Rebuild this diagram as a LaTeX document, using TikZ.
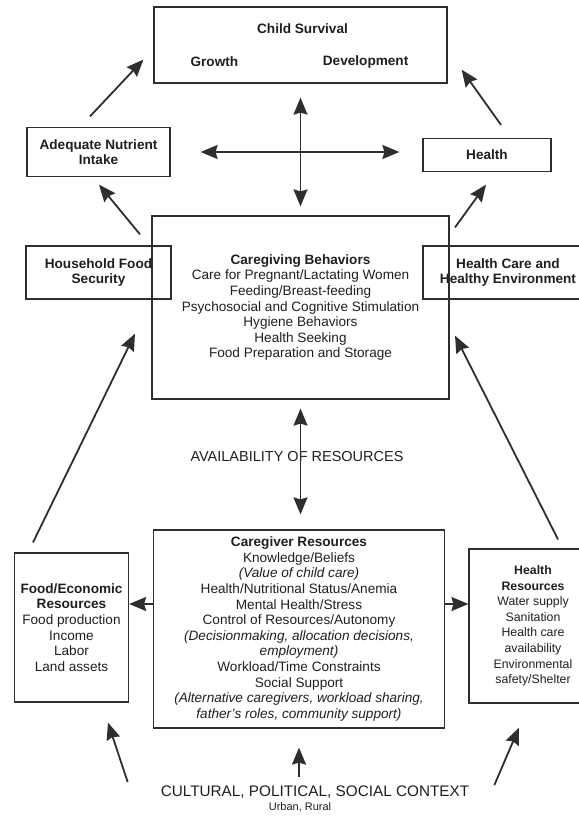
\documentclass[tikz,border=0pt]{standalone}
\usepackage{fontspec}
\setmainfont{Liberation Sans}
\usetikzlibrary{arrows.meta,calc}
\definecolor{LineClr}{rgb}{0.18,0.18,0.18}
\definecolor{TextClr}{rgb}{0.12,0.12,0.12}

\begin{document}
\begin{tikzpicture}[x=1pt,y=-1pt,
  box/.style={draw=LineClr,line width=1.2pt,align=center,inner sep=0pt,text=TextClr,font=\fontsize{13.6}{15.6}\selectfont},
  lbl/.style={inner sep=0pt,text=TextClr,font=\bfseries\fontsize{13.6}{15.6}\selectfont},
  arr/.style={draw=LineClr,line width=1.8pt,-{Stealth[length=17pt,width=14pt,inset=2pt]}},
  dbl/.style={arr,{Stealth[length=17pt,width=14pt,inset=2pt]}-{Stealth[length=17pt,width=14pt,inset=2pt]}}]
\useasboundingbox (0,0) rectangle (578,816);

\node[box,minimum width=293pt,minimum height=76pt] (child) at (300.5,45) {};
\node[lbl] (survival) at ($(child.north)+(2,22)$) {Child Survival};
\node[lbl] (growth) at ($(child.south west)+(61,-22)$) {Growth};
\node[lbl] (devel) at ($(child.south east)+(-82,-22)$) {Development};

\node[box,minimum width=143pt,minimum height=49pt] (nutr) at (98.5,152) {\textbf{Adequate Nutrient}\\\textbf{Intake}};
\node[box,minimum width=128pt,minimum height=33pt] (hlth) at (487,155) {\textbf{Health}};

\node[box,minimum width=145pt,minimum height=53pt] (house) at (98.5,272.5) {\textbf{Household Food}\\\textbf{Security}};
\node[box,minimum width=297pt,minimum height=183pt] (care) at (300.5,307.5) {\textbf{Caregiving Behaviors}\\
  Care for Pregnant/Lactating Women\\
  Feeding/Breast-feeding\\
  Psychosocial and Cognitive Stimulation\\
  Hygiene Behaviors\\
  Health Seeking\\
  Food Preparation and Storage};
\node[box,minimum width=170pt,minimum height=53pt] (env) at (508,272.5) {\textbf{Health Care and}\\\textbf{Healthy Environment}};

\node[box,minimum width=291pt,minimum height=198pt] (givers) at (299,629) {\textbf{Caregiver Resources}\\
  Knowledge/Beliefs\\
  \textit{(Value of child care)}\\
  Health/Nutritional Status/Anemia\\
  Mental Health/Stress\\
  Control of Resources/Autonomy\\
  \textit{(Decisionmaking, allocation decisions,}\\
  \textit{employment)}\\
  Workload/Time Constraints\\
  Social Support\\
  \textit{(Alternative caregivers, workload sharing,}\\
  \textit{father's roles, community support)}};
\node[box,minimum width=114pt,minimum height=149pt] (food) at (71.5,627.5) {\textbf{Food/Economic}\\\textbf{Resources}\\
  Food production\\Income\\Labor\\Land assets};
\node[box,minimum width=128pt,minimum height=154pt,font=\fontsize{12.3}{15.6}\selectfont] (hres) at (533,626) {\textbf{Health}\\\textbf{Resources}\\
  Water supply\\Sanitation\\Health care\\availability\\Environmental\\safety/Shelter};

\node[inner sep=0pt,text=TextClr,font=\fontsize{14.5}{16}\selectfont] (avail) at (297,457) {AVAILABILITY OF RESOURCES};
\node[inner sep=0pt,text=TextClr,font=\fontsize{15.3}{17}\selectfont] (context) at (315,792) {CULTURAL, POLITICAL, SOCIAL CONTEXT};
\node[inner sep=0pt,text=TextClr,font=\fontsize{11}{12}\selectfont] (urban) at (300,807) {Urban, Rural};

\draw[arr] ($(nutr.north)+(-8.5,-10.5)$) -- ($(child.south west)+(-10,-24)$);
\draw[arr] ($(hlth.north)+(14,-13)$) -- ($(child.south east)+(14,-14)$);
\draw[dbl] ($(nutr.east)+(30,0)$) -- ($(nutr.east -| hlth.west)+(-23,0)$);
\draw[dbl] ($(child.south)+(0,14)$) -- ($(child.south |- care.north)+(0,-9)$);

\draw[arr] ($(house.north)+(41.5,-11)$) -- ($(nutr.south)+(0.5,7.5)$);
\draw[arr] ($(env.north)+(-53,-18)$) -- ($(hlth.south)+(-1,12.5)$);

\draw[dbl] ($(care.south)+(0,9)$) -- ($(care.south |- givers.north)+(0,-15)$);

\draw[arr] ($(food.north)+(-38.5,-10)$) -- ($(house.south)+(36.5,34)$);
\draw[arr] ($(hres.north)+(25,-9)$) -- ($(env.south)+(-53,36)$);

\draw[arr] ($(givers.west)+(0,-25)$) -- ($(givers.west -| food.east)+(0,-25)$);
\draw[arr] ($(givers.east)+(0,-25)$) -- ($(givers.east -| hres.west)+(0,-25)$);

\draw[arr] ($(context.west)+(-33,-10)$) -- ($(food.south)+(36.5,20)$);
\draw[arr] ($(context.north -| givers.south)+(0,-8)$) -- ($(givers.south)+(0,19)$);
\draw[arr] ($(context.east)+(25,-7)$) -- ($(hres.south)+(-14,24)$);

\end{tikzpicture}
\end{document}
